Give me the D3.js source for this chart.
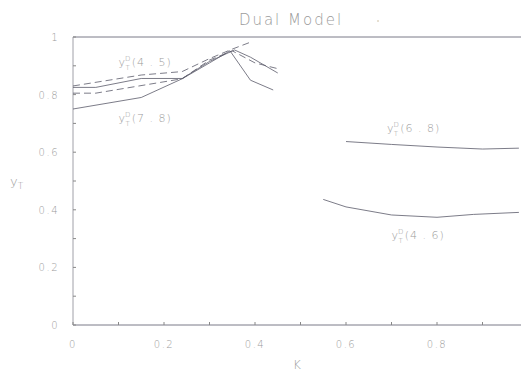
<!DOCTYPE html>
<html>
<head>
<meta charset="utf-8">
<script src="https://cdn.jsdelivr.net/npm/d3@7"></script>
<style>
  body { margin: 0; background: #fff; }
  text { font-family: "DejaVu Sans", sans-serif; font-weight: 200; fill: #9a9a9a; }
</style>
</head>
<body>
<svg id="chart" width="521" height="371"></svg>
<script>
// values
const xTicks = [0, 0.2, 0.4, 0.6, 0.8];
const yTicks = [0, 0.2, 0.4, 0.6, 0.8, 1];

const solidUpperX = [0, 0.05, 0.15, 0.24, 0.30, 0.355, 0.39, 0.45];
const solidUpperY = [0.825, 0.825, 0.856, 0.856, 0.915, 0.955, 0.93, 0.875];
const solidLowerX = [0, 0.15, 0.24, 0.30, 0.345, 0.39, 0.44];
const solidLowerY = [0.75, 0.79, 0.855, 0.91, 0.952, 0.85, 0.816];
const dashUpperX = [0, 0.15, 0.24, 0.30, 0.35, 0.395];
const dashUpperY = [0.83, 0.868, 0.88, 0.925, 0.958, 0.985];
const dashLowerX = [0, 0.05, 0.24, 0.30, 0.35, 0.40, 0.45];
const dashLowerY = [0.805, 0.805, 0.855, 0.92, 0.952, 0.91, 0.89];
const d68X = [0.6, 0.7, 0.8, 0.9, 0.98];
const d68Y = [0.637, 0.627, 0.618, 0.611, 0.614];
const d46X = [0.55, 0.60, 0.70, 0.80, 0.88, 0.98];
const d46Y = [0.436, 0.41, 0.382, 0.374, 0.384, 0.391];

const labels = [
  {name: "4.5", x: 0.1, y: 0.90},
  {name: "7.8", x: 0.1, y: 0.705},
  {name: "6.8", x: 0.69, y: 0.67},
  {name: "4.6", x: 0.70, y: 0.30}
];

const svg = d3.select("#chart");
const x = d3.scaleLinear().domain([0, 1]).range([73, 528]);
const y = d3.scaleLinear().domain([0, 1]).range([325, 37]);

// frame
svg.append("line").attr("x1", x(0)).attr("x2", 521).attr("y1", y(0)).attr("y2", y(0))
  .attr("stroke", "#7a7a88").attr("stroke-width", 1);
svg.append("line").attr("x1", x(0)).attr("x2", 521).attr("y1", y(1)).attr("y2", y(1))
  .attr("stroke", "#7a7a88").attr("stroke-width", 1);
svg.append("line").attr("x1", x(0)).attr("x2", x(0)).attr("y1", y(0)).attr("y2", y(1))
  .attr("stroke", "#a0a0a8").attr("stroke-width", 1);

// minor ticks every 0.1
const minor = d3.range(0, 1.01, 0.1);
svg.selectAll(".xt").data(minor).join("line").attr("class", "xt")
  .attr("x1", d => x(d)).attr("x2", d => x(d))
  .attr("y1", y(0)).attr("y2", y(0) - 3).attr("stroke", "#888");
svg.selectAll(".yt").data(minor).join("line").attr("class", "yt")
  .attr("x1", x(0)).attr("x2", x(0) + 3)
  .attr("y1", d => y(d)).attr("y2", d => y(d)).attr("stroke", "#888");

const fmt = d => d === 0 ? "0" : d === 1 ? "1" : d3.format(".1f")(d);
svg.selectAll(".xl").data(xTicks).join("text").attr("class", "xl")
  .attr("x", d => x(d)).attr("y", 348).attr("text-anchor", "middle")
  .attr("font-size", 10).attr("letter-spacing", 1.5).text(fmt);
svg.selectAll(".yl").data(yTicks).join("text").attr("class", "yl")
  .attr("x", 59).attr("y", d => y(d) + 4).attr("text-anchor", "end")
  .attr("font-size", 10).attr("letter-spacing", 1.5).text(fmt);

// titles
svg.append("text").attr("x", 291).attr("y", 25).attr("text-anchor", "middle")
  .attr("font-size", 15).attr("letter-spacing", 2).text("Dual Model");
svg.append("circle").attr("cx", 378).attr("cy", 21).attr("r", 0.8).attr("fill", "#c9b89a");
svg.append("text").attr("x", 297).attr("y", 369).attr("text-anchor", "middle")
  .attr("font-size", 12).text("K");
const yl = svg.append("text").attr("x", 10).attr("y", 186).attr("font-size", 13);
yl.append("tspan").text("y");
yl.append("tspan").attr("font-size", 9).attr("dy", 3).text("T");

// curves
const line = d3.line().x(d => x(d[0])).y(d => y(d[1]));
const series = [
  {xs: solidUpperX, ys: solidUpperY, dash: null},
  {xs: solidLowerX, ys: solidLowerY, dash: null},
  {xs: dashUpperX, ys: dashUpperY, dash: "7,4"},
  {xs: dashLowerX, ys: dashLowerY, dash: "7,4"},
  {xs: d68X, ys: d68Y, dash: null},
  {xs: d46X, ys: d46Y, dash: null}
];
svg.selectAll(".curve").data(series).join("path").attr("class", "curve")
  .attr("d", s => line(d3.zip(s.xs, s.ys)))
  .attr("fill", "none").attr("stroke", "#5a5a6a").attr("stroke-width", 0.8)
  .attr("stroke-dasharray", s => s.dash);

// curve labels
labels.forEach(l => {
  const t = svg.append("text").attr("x", x(l.x)).attr("y", y(l.y))
    .attr("font-size", 11).attr("letter-spacing", 1);
  t.append("tspan").text("y");
  t.append("tspan").attr("font-size", 7).attr("dy", -5).attr("dx", -1).text("D");
  t.append("tspan").attr("font-size", 7).attr("dy", 9).attr("dx", -6).text("T");
  t.append("tspan").attr("dy", -4).attr("dx", 1).text("(" + l.name.replace(".", " . ") + ")");
});
</script>
</body>
</html>
